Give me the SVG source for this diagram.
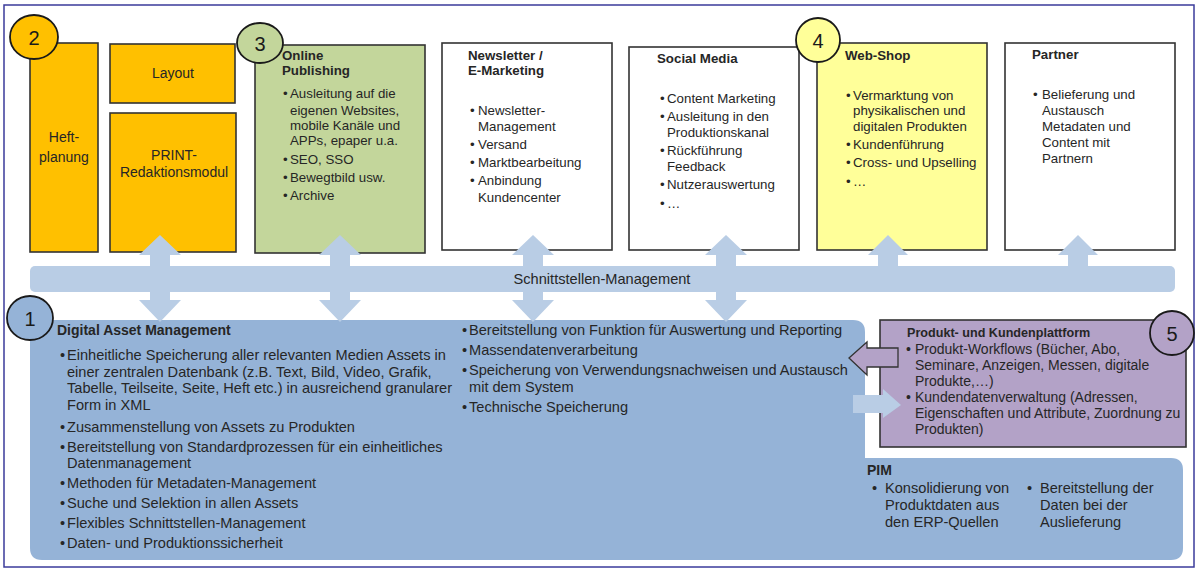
<svg xmlns="http://www.w3.org/2000/svg" width="1198" height="570" viewBox="0 0 1198 570">
<defs>
<style>
.t{font-family:"Liberation Sans",Arial,sans-serif;font-size:13.3px;fill:#262626}
.d{font-size:14.6px}
.p{font-size:14px}
.b{font-weight:bold}
.c{text-anchor:middle}
.n{font-family:"Liberation Sans",Arial,sans-serif;font-size:20px;fill:#1a1a1a;text-anchor:middle}
.box{stroke:#333333;stroke-width:1.6}
.circ{stroke:#1a1a1a;stroke-width:1.8}
.lb{fill:#B9CDE5}
</style>
</defs>
<rect x="4" y="5" width="1190" height="562" fill="#ffffff" stroke="#3b3b9b" stroke-width="1.5"/>

<g id="dam-pim">
<path d="M42,320 H853 Q865,320 865,332 V458 H1171 Q1183,458 1183,470 V548 Q1183,560 1171,560 H42 Q30,560 30,548 V332 Q30,320 42,320 Z" fill="#95B3D7"/>
<text class="t b" x="57" y="335" style="font-size:14px">Digital Asset Management</text>
<g class="t d">
<text x="60" y="360">•</text><text x="67" y="360">Einheitliche Speicherung aller relevanten Medien Assets in</text>
<text x="67" y="377">einer zentralen Datenbank (z.B. Text, Bild, Video, Grafik,</text>
<text x="67" y="393">Tabelle, Teilseite, Seite, Heft etc.) in ausreichend granularer</text>
<text x="67" y="410">Form in XML</text>
<text x="60" y="432">•</text><text x="67" y="432">Zusammenstellung von Assets zu Produkten</text>
<text x="60" y="452">•</text><text x="67" y="452">Bereitstellung von Standardprozessen für ein einheitliches</text>
<text x="67" y="468">Datenmanagement</text>
<text x="60" y="488">•</text><text x="67" y="488">Methoden für Metadaten-Management</text>
<text x="60" y="508">•</text><text x="67" y="508">Suche und Selektion in allen Assets</text>
<text x="60" y="528">•</text><text x="67" y="528">Flexibles Schnittstellen-Management</text>
<text x="60" y="548">•</text><text x="67" y="548">Daten- und Produktionssicherheit</text>
<text x="462" y="335">•</text><text x="469" y="335">Bereitstellung von Funktion für Auswertung und Reporting</text>
<text x="462" y="355">•</text><text x="469" y="355">Massendatenverarbeitung</text>
<text x="462" y="375">•</text><text x="469" y="375">Speicherung von Verwendungsnachweisen und Austausch</text>
<text x="469" y="392">mit dem System</text>
<text x="462" y="412">•</text><text x="469" y="412">Technische Speicherung</text>
</g>
<text class="t b" x="867" y="475" style="font-size:14px">PIM</text>
<g class="t d">
<text x="872" y="493">•</text><text x="885" y="493">Konsolidierung von</text>
<text x="885" y="510">Produktdaten aus</text>
<text x="885" y="527">den ERP-Quellen</text>
<text x="1027" y="493">•</text><text x="1040" y="493">Bereitstellung der</text>
<text x="1040" y="510">Daten bei der</text>
<text x="1040" y="527">Auslieferung</text>
</g>
<ellipse class="circ" cx="30" cy="318" rx="23" ry="22" fill="#95B3D7"/>
<text class="n" x="30" y="326">1</text>
</g>

<g id="heftplanung">
<rect class="box" x="30" y="43" width="68" height="209" fill="#FFC000"/>
<text class="t c" x="64" y="142" style="font-size:14px">Heft-</text>
<text class="t c" x="64" y="162" style="font-size:14px">planung</text>
<ellipse class="circ" cx="34" cy="37" rx="24" ry="22" fill="#FFC000"/>
<text class="n" x="34" y="45">2</text>
</g>

<g id="layout">
<rect class="box" x="110" y="44" width="125" height="59" fill="#FFC000"/>
<text class="t c" x="173" y="78" style="font-size:14px">Layout</text>
</g>

<g id="print">
<rect class="box" x="110" y="113" width="126" height="139" fill="#FFC000"/>
<text class="t c" x="174" y="160" style="font-size:14px">PRINT-</text>
<text class="t c" x="174" y="177" style="font-size:14px">Redaktionsmodul</text>
</g>

<g id="online">
<rect class="box" x="255" y="45" width="170" height="208" fill="#C3D69B"/>
<text class="t b" x="282" y="60">Online</text>
<text class="t b" x="282" y="75">Publishing</text>
<g class="t">
<text x="283" y="98">•</text><text x="290" y="98">Ausleitung auf die</text>
<text x="290" y="115">eigenen Websites,</text>
<text x="290" y="130">mobile Kanäle und</text>
<text x="290" y="145">APPs, epaper u.a.</text>
<text x="283" y="164">•</text><text x="290" y="164">SEO, SSO</text>
<text x="283" y="182">•</text><text x="290" y="182">Bewegtbild usw.</text>
<text x="283" y="200">•</text><text x="290" y="200">Archive</text>
</g>
<ellipse class="circ" cx="260" cy="43" rx="23" ry="20" fill="#C3D69B"/>
<text class="n" x="260" y="51">3</text>
</g>

<g id="newsletter">
<rect class="box" x="442" y="43" width="170" height="207" fill="#ffffff"/>
<text class="t b" x="468" y="60">Newsletter /</text>
<text class="t b" x="468" y="75">E-Marketing</text>
<g class="t">
<text x="470" y="115">•</text><text x="478" y="115">Newsletter-</text>
<text x="478" y="131">Management</text>
<text x="470" y="149">•</text><text x="478" y="149">Versand</text>
<text x="470" y="167">•</text><text x="478" y="167">Marktbearbeitung</text>
<text x="470" y="185">•</text><text x="478" y="185">Anbindung</text>
<text x="478" y="202">Kundencenter</text>
</g>
</g>

<g id="social">
<rect class="box" x="629" y="47" width="170" height="203" fill="#ffffff"/>
<text class="t b" x="657" y="63">Social Media</text>
<g class="t">
<text x="660" y="103">•</text><text x="667" y="103">Content Marketing</text>
<text x="660" y="121">•</text><text x="667" y="121">Ausleitung in den</text>
<text x="667" y="137">Produktionskanal</text>
<text x="660" y="155">•</text><text x="667" y="155">Rückführung</text>
<text x="667" y="171">Feedback</text>
<text x="660" y="189">•</text><text x="667" y="189">Nutzerauswertung</text>
<text x="660" y="208">•</text><text x="667" y="208">…</text>
</g>
</g>

<g id="webshop">
<rect class="box" x="817" y="43" width="170" height="207" fill="#FFFF99"/>
<text class="t b" x="845" y="60">Web-Shop</text>
<g class="t">
<text x="846" y="100">•</text><text x="853" y="100">Vermarktung von</text>
<text x="853" y="115">physikalischen und</text>
<text x="853" y="131">digitalen Produkten</text>
<text x="846" y="149">•</text><text x="853" y="149">Kundenführung</text>
<text x="846" y="167">•</text><text x="853" y="167">Cross- und Upselling</text>
<text x="846" y="186">•</text><text x="853" y="186">…</text>
</g>
<ellipse class="circ" cx="818" cy="40" rx="22" ry="22" fill="#FFFF99"/>
<text class="n" x="818" y="48">4</text>
</g>

<g id="partner">
<rect class="box" x="1005" y="43" width="170" height="207" fill="#ffffff"/>
<text class="t b" x="1032" y="59">Partner</text>
<g class="t">
<text x="1033" y="99">•</text><text x="1042" y="99">Belieferung und</text>
<text x="1042" y="115">Austausch</text>
<text x="1042" y="131">Metadaten und</text>
<text x="1042" y="147">Content mit</text>
<text x="1042" y="163">Partnern</text>
</g>
</g>

<g id="plattform">
<rect class="box" x="880" y="320" width="306" height="127" fill="#B3A2C7"/>
<text class="t b" x="907" y="337" style="font-size:12.6px">Produkt- und Kundenplattform</text>
<g class="t p">
<text x="906" y="354">•</text><text x="915" y="354">Produkt-Workflows (Bücher, Abo,</text>
<text x="915" y="370">Seminare, Anzeigen, Messen, digitale</text>
<text x="915" y="386">Produkte,…)</text>
<text x="906" y="402">•</text><text x="915" y="402">Kundendatenverwaltung (Adressen,</text>
<text x="915" y="418">Eigenschaften und Attribute, Zuordnung zu</text>
<text x="915" y="434">Produkten)</text>
</g>
<ellipse class="circ" cx="1172" cy="333" rx="22" ry="22" fill="#B3A2C7"/>
<text class="n" x="1172" y="341">5</text>
</g>

<g id="connectors">
<rect class="lb" x="30" y="266" width="1145" height="26" rx="5"/>
<polygon class="lb" points="160,235 181,255 170,255 170,300 181,300 160,322 139,300 150,300 150,255 139,255"/>
<polygon class="lb" points="340,235 361,255 350,255 350,300 361,300 340,322 319,300 330,300 330,255 319,255"/>
<polygon class="lb" points="533,235 554,255 543,255 543,300 554,300 533,322 512,300 523,300 523,255 512,255"/>
<polygon class="lb" points="726,235 747,255 736,255 736,300 747,300 726,322 705,300 716,300 716,255 705,255"/>
<polygon class="lb" points="888,235 908,255 898,255 898,270 878,270 878,255 868,255"/>
<polygon class="lb" points="1078,235 1098,255 1088,255 1088,270 1068,270 1068,255 1058,255"/>
<polygon points="849,358 867,342 867,348 898,348 898,367 867,367 867,375" fill="#B3A2C7" stroke="#333333" stroke-width="1.3"/>
<polygon class="lb" points="853,395 883,395 883,389 901,405 883,418 883,413 853,413"/>
<text class="t c" x="602" y="284" style="font-size:14.6px">Schnittstellen-Management</text>
</g>
</svg>
